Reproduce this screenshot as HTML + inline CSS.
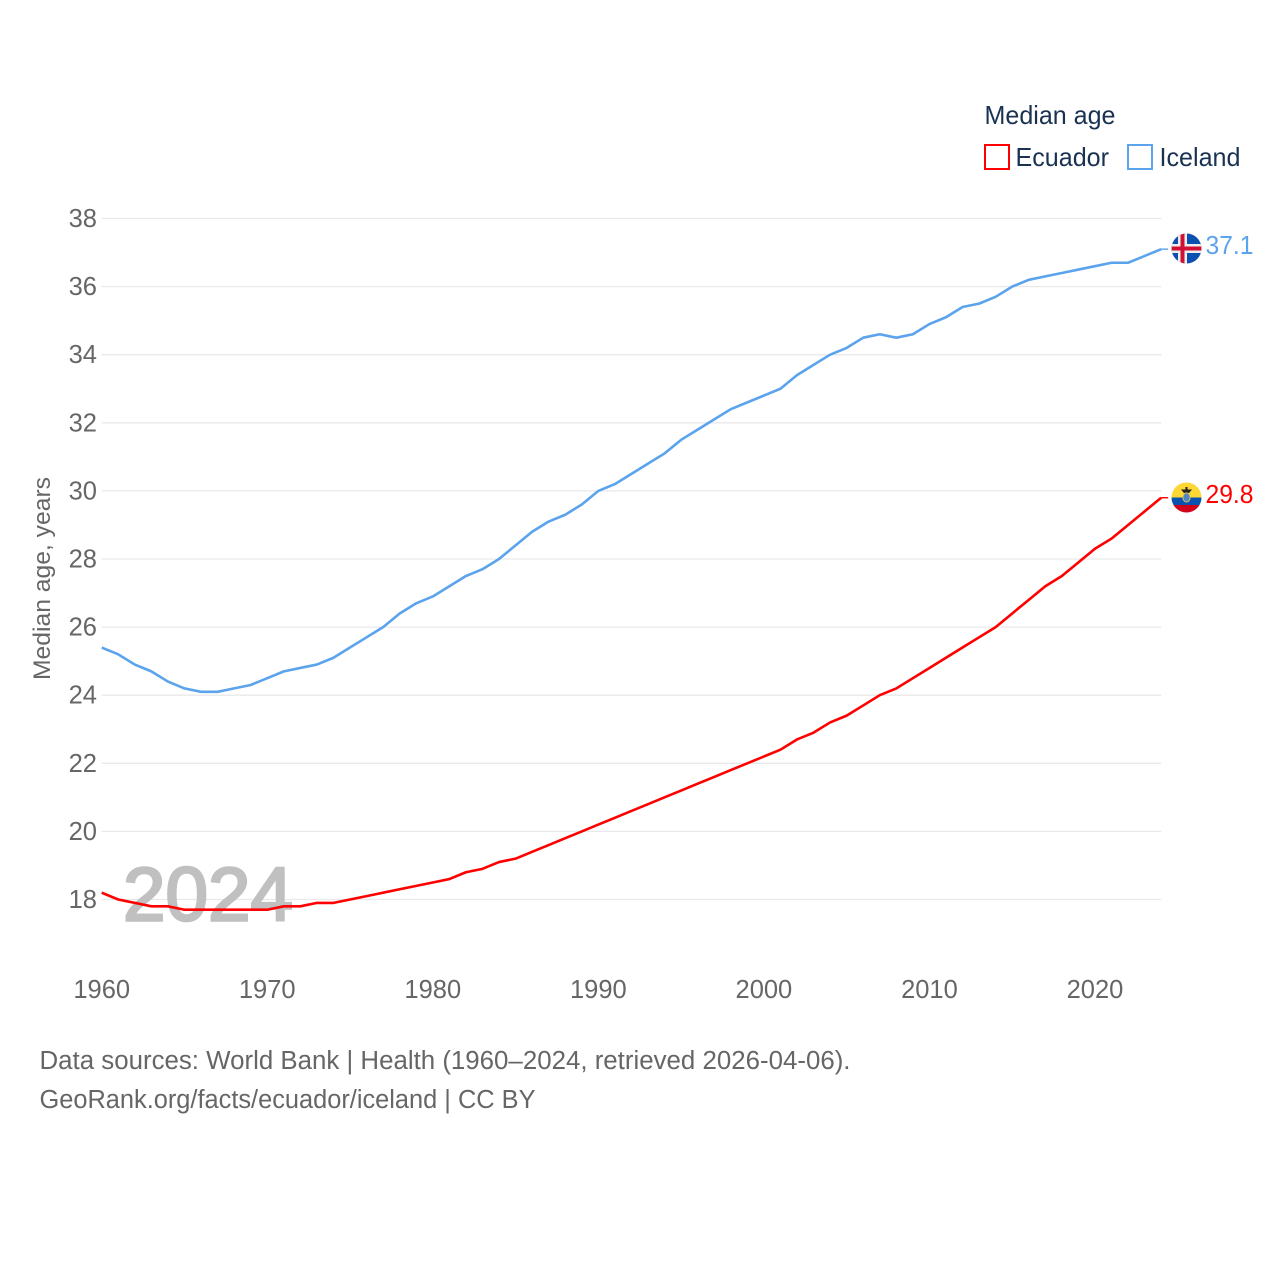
<!DOCTYPE html>
<html lang="en">
<head>
<meta charset="utf-8">
<title>Median age: Ecuador and Iceland</title>
<style>
html,body{margin:0;padding:0;background:#fff;width:1280px;height:1280px;overflow:hidden}
svg{display:block}
text{font-family:"Liberation Sans",sans-serif}
</style>
</head>
<body>
<svg id="chart" xmlns="http://www.w3.org/2000/svg" width="1280" height="1280" viewBox="0 0 1280 1280">
<defs>
<clipPath id="flag-clip-is"><circle cx="1186.5" cy="248.5" r="15"/></clipPath>
<clipPath id="flag-clip-ec"><circle cx="1186.5" cy="497.5" r="15"/></clipPath>
</defs>
<rect x="0" y="0" width="1280" height="1280" fill="#fff"/>
<g id="grid"></g>
<g id="yticks"></g>
<g id="xticks"></g>
<text x="123" y="920.5" font-size="76" fill="#c0c0c0" stroke="#c0c0c0" stroke-width="2.6" textLength="170" lengthAdjust="spacingAndGlyphs">2024</text>
<text transform="translate(50,680) rotate(-90)" font-size="24" fill="#666" textLength="203" lengthAdjust="spacingAndGlyphs">Median age, years</text>
<g id="series"></g>
<g clip-path="url(#flag-clip-is)">
<rect x="1171" y="233" width="31" height="31" fill="#0b52b0"/>
<rect x="1171" y="244" width="31" height="9" fill="#eee"/>
<rect x="1178" y="233" width="9" height="31" fill="#eee"/>
<rect x="1171" y="246.5" width="31" height="4" fill="#d21034"/>
<rect x="1180.5" y="233" width="4" height="31" fill="#d21034"/>
</g>
<g clip-path="url(#flag-clip-ec)">
<rect x="1171" y="482" width="31" height="16" fill="#fdd835"/>
<rect x="1171" y="497.5" width="31" height="8" fill="#0b52b0"/>
<rect x="1171" y="505" width="31" height="9" fill="#d0021b"/>
<path d="M1181 489.5h11l-3 3.5h-5z" fill="#222"/>
<rect x="1185.5" y="487" width="2" height="3" fill="#222"/>
<ellipse cx="1186.5" cy="497.5" rx="3.6" ry="4.6" fill="#4f86c6" stroke="#d9c25a" stroke-width="1"/>
</g>
<text id="label-is" x="1205.5" y="254" font-size="25.5" fill="#5ba3ec" textLength="48" lengthAdjust="spacingAndGlyphs">37.1</text>
<text id="label-ec" x="1205.5" y="503" font-size="25.5" fill="#ff0000" textLength="48" lengthAdjust="spacingAndGlyphs">29.8</text>
<g>
<text x="984.5" y="124" font-size="26" fill="#1a3252" textLength="131" lengthAdjust="spacingAndGlyphs">Median age</text>
<g>
<rect x="985" y="145" width="24" height="24" fill="none" stroke="#ff0000" stroke-width="2"/>
<text x="1015.5" y="166" font-size="26" fill="#1a3252" textLength="93.5" lengthAdjust="spacingAndGlyphs">Ecuador</text>
</g>
<g>
<rect x="1128" y="145" width="24" height="24" fill="none" stroke="#5ba3ec" stroke-width="2"/>
<text x="1159.5" y="166" font-size="26" fill="#1a3252" textLength="81" lengthAdjust="spacingAndGlyphs">Iceland</text>
</g>
</g>
<text x="39.5" y="1069" font-size="25.5" fill="#666" textLength="811" lengthAdjust="spacingAndGlyphs">Data sources: World Bank | Health (1960–2024, retrieved 2026-04-06).</text>
<text x="39.5" y="1108" font-size="25.5" fill="#666" textLength="496" lengthAdjust="spacingAndGlyphs">GeoRank.org/facts/ecuador/iceland | CC BY</text>
</svg>
<script>
const years = [1960,1961,1962,1963,1964,1965,1966,1967,1968,1969,1970,1971,1972,1973,1974,1975,1976,1977,1978,1979,1980,1981,1982,1983,1984,1985,1986,1987,1988,1989,1990,1991,1992,1993,1994,1995,1996,1997,1998,1999,2000,2001,2002,2003,2004,2005,2006,2007,2008,2009,2010,2011,2012,2013,2014,2015,2016,2017,2018,2019,2020,2021,2022,2023,2024];
const icelandValues = [25.4,25.2,24.9,24.7,24.4,24.2,24.1,24.1,24.2,24.3,24.5,24.7,24.8,24.9,25.1,25.4,25.7,26.0,26.4,26.7,26.9,27.2,27.5,27.7,28.0,28.4,28.8,29.1,29.3,29.6,30.0,30.2,30.5,30.8,31.1,31.5,31.8,32.1,32.4,32.6,32.8,33.0,33.4,33.7,34.0,34.2,34.5,34.6,34.5,34.6,34.9,35.1,35.4,35.5,35.7,36.0,36.2,36.3,36.4,36.5,36.6,36.7,36.7,36.9,37.1];
const ecuadorValues = [18.2,18.0,17.9,17.8,17.8,17.7,17.7,17.7,17.7,17.7,17.7,17.8,17.8,17.9,17.9,18.0,18.1,18.2,18.3,18.4,18.5,18.6,18.8,18.9,19.1,19.2,19.4,19.6,19.8,20.0,20.2,20.4,20.6,20.8,21.0,21.2,21.4,21.6,21.8,22.0,22.2,22.4,22.7,22.9,23.2,23.4,23.7,24.0,24.2,24.5,24.8,25.1,25.4,25.7,26.0,26.4,26.8,27.2,27.5,27.9,28.3,28.6,29.0,29.4,29.8];
const yTickValues = [18,20,22,24,26,28,30,32,34,36,38];
const xTickValues = [1960,1970,1980,1990,2000,2010,2020];

const SVG_NS = 'http://www.w3.org/2000/svg';
const xScale = function (year) { return 101.7 + (year - 1960) * (1059.5 / 64); };
const yScale = function (value) { return 899.5 - (value - 18) * (681 / 20); };

const gridGroup = document.getElementById('grid');
const yTickGroup = document.getElementById('yticks');
const xTickGroup = document.getElementById('xticks');
const seriesGroup = document.getElementById('series');

yTickValues.forEach(function (tick) {
  const line = document.createElementNS(SVG_NS, 'line');
  
  
  line.setAttribute('x1', xScale(1960));
  line.setAttribute('x2', xScale(2024));
  line.setAttribute('y1', yScale(tick));
  line.setAttribute('y2', yScale(tick));
  line.setAttribute('stroke', '#e9e9e9');
  line.setAttribute('stroke-width', '1.3');
  gridGroup.appendChild(line);

  const label = document.createElementNS(SVG_NS, 'text');
  
  
  label.setAttribute('x', 97);
  label.setAttribute('y', yScale(tick) + 8.5);
  label.setAttribute('text-anchor', 'end');
  label.setAttribute('font-size', '25.5');
  label.setAttribute('fill', '#666');
  label.textContent = tick;
  yTickGroup.appendChild(label);
});

xTickValues.forEach(function (tick) {
  const label = document.createElementNS(SVG_NS, 'text');
  
  
  label.setAttribute('x', xScale(tick));
  label.setAttribute('y', 998);
  label.setAttribute('text-anchor', 'middle');
  label.setAttribute('font-size', '25.5');
  label.setAttribute('fill', '#666');
  label.textContent = tick;
  xTickGroup.appendChild(label);
});

function drawSeries(name, values, color) {
  const points = values.map(function (value, i) {
    return xScale(years[i]).toFixed(2) + ',' + yScale(value).toFixed(2);
  });
  const path = document.createElementNS(SVG_NS, 'polyline');
  
  
  path.setAttribute('points', points.join(' '));
  path.setAttribute('fill', 'none');
  path.setAttribute('stroke', color);
  path.setAttribute('stroke-width', '2.6');
  path.setAttribute('stroke-linejoin', 'round');
  seriesGroup.appendChild(path);

  const lastValue = values[values.length - 1];
  const connector = document.createElementNS(SVG_NS, 'line');
  
  
  connector.setAttribute('x1', xScale(years[years.length - 1]));
  connector.setAttribute('x2', xScale(years[years.length - 1]) + 7);
  connector.setAttribute('y1', yScale(lastValue));
  connector.setAttribute('y2', yScale(lastValue));
  connector.setAttribute('stroke', color);
  connector.setAttribute('stroke-width', '1.4');
  seriesGroup.appendChild(connector);
}

drawSeries('iceland', icelandValues, '#5ba3ec');
drawSeries('ecuador', ecuadorValues, '#ff0000');
</script>
</body>
</html>
